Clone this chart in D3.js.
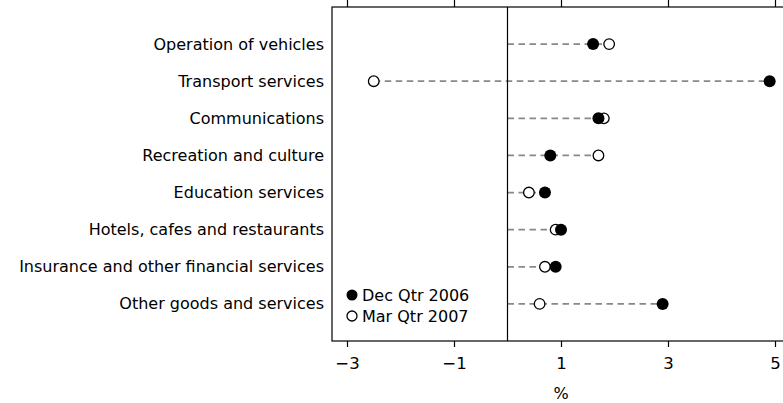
<!DOCTYPE html>
<html><head><meta charset="utf-8">
<script src="https://cdn.jsdelivr.net/npm/d3@7"></script>
<style>body{margin:0;background:#fff}svg{display:block}text{font-family:"DejaVu Sans",sans-serif}</style>
</head><body><svg id="c" width="783" height="403"></svg>
<script>
const categories = ["Operation of vehicles","Transport services","Communications","Recreation and culture","Education services","Hotels, cafes and restaurants","Insurance and other financial services","Other goods and services"];
const decQtr2006 = [1.6, 4.9, 1.7, 0.8, 0.7, 1.0, 0.9, 2.9];
const marQtr2007 = [1.9, -2.5, 1.8, 1.7, 0.4, 0.9, 0.7, 0.6];
const tickValues = [-3, -1, 1, 3, 5];
const seriesNames = ["Dec Qtr 2006", "Mar Qtr 2007"];

const FONT = "DejaVu Sans, sans-serif";
const svg = d3.select("#c");
const pLeft = 332, pTop = 7, pBottom = 341, pRight = 800;
const x = d3.scaleLinear().domain([-3, 5]).range([347, 775]);
const y = d3.scalePoint().domain(categories).range([pTop, pBottom]).padding(1);

// dashed connectors
categories.forEach((c, i) => {
  const lo = Math.min(0, decQtr2006[i], marQtr2007[i]);
  const hi = Math.max(0, decQtr2006[i], marQtr2007[i]);
  svg.append("line").attr("x1", x(lo)).attr("x2", x(hi))
    .attr("y1", y(c)).attr("y2", y(c))
    .attr("stroke", "#888").attr("stroke-width", 1.7).attr("stroke-dasharray", "6.5,4.5");
});

// frame
svg.append("rect").attr("x", pLeft).attr("y", pTop).attr("width", pRight - pLeft).attr("height", pBottom - pTop)
  .attr("fill", "none").attr("stroke", "#000").attr("stroke-width", 1.2);
svg.append("line").attr("x1", x(0)).attr("x2", x(0)).attr("y1", pTop).attr("y2", pBottom)
  .attr("stroke", "#000").attr("stroke-width", 1.2);

// axes
const gb = svg.append("g").attr("transform", `translate(0,${pBottom})`)
  .call(d3.axisBottom(x).tickValues(tickValues).tickSize(6).tickPadding(10));
gb.select(".domain").remove();
gb.selectAll("line").attr("stroke", "#000").attr("stroke-width", 1.2);
gb.selectAll("text").attr("font-size", 16.5).attr("fill", "#000").attr("font-family", FONT);
const gt = svg.append("g").attr("transform", `translate(0,${pTop})`)
  .call(d3.axisTop(x).tickValues(tickValues).tickSize(8).tickFormat(""));
gt.select(".domain").remove();
gt.selectAll("line").attr("stroke", "#000").attr("stroke-width", 1.2);

svg.append("text").attr("x", x(1)).attr("y", 399).attr("text-anchor", "middle")
  .attr("font-size", 16).text("%");

// category labels
svg.selectAll("text.cat").data(categories).join("text").attr("class", "cat")
  .attr("x", 324).attr("y", d => y(d)).attr("dy", "0.35em").attr("text-anchor", "end")
  .attr("font-size", 16).text(d => d);

// points
svg.selectAll("circle.mar").data(categories).join("circle").attr("class", "mar")
  .attr("cx", (d, i) => x(marQtr2007[i])).attr("cy", d => y(d)).attr("r", 5.3)
  .attr("fill", "#fff").attr("stroke", "#000").attr("stroke-width", 1.3);
svg.selectAll("circle.dec").data(categories).join("circle").attr("class", "dec")
  .attr("cx", (d, i) => x(decQtr2006[i])).attr("cy", d => y(d)).attr("r", 6)
  .attr("fill", "#000");

// legend
const lg = svg.append("g");
lg.append("circle").attr("cx", 352).attr("cy", 295).attr("r", 5.5).attr("fill", "#000");
lg.append("circle").attr("cx", 352).attr("cy", 316).attr("r", 5).attr("fill", "#fff").attr("stroke", "#000").attr("stroke-width", 1.3);
lg.append("text").attr("x", 362).attr("y", 295).attr("dy", "0.35em").attr("font-size", 16).text(seriesNames[0]);
lg.append("text").attr("x", 362).attr("y", 316).attr("dy", "0.35em").attr("font-size", 16).text(seriesNames[1]);
</script></body></html>
